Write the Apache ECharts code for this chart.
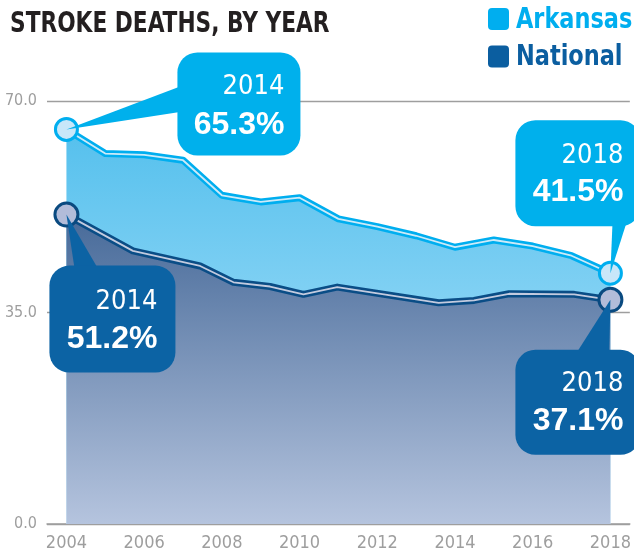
<!DOCTYPE html>
<html><head><meta charset="utf-8">
<script src="https://cdn.jsdelivr.net/npm/echarts@6/dist/echarts.min.js"></script>
<style>html,body{margin:0;padding:0;background:#fff}#c{width:634px;height:552px}</style>
</head><body><div id="c"></div>
<script>
// ---- data ----
const categories = ['2004','2005','2006','2007','2008','2009','2010','2011','2012','2013','2014','2015','2016','2017','2018'];
const arkansasValues = [65.3,61.3,61.1,60.2,54.4,53.3,54.0,50.5,49.2,47.7,45.8,47.0,46.0,44.4,41.5];
const nationalYears = [2004,2005.71,2007.44,2008.30,2009.24,2010.10,2010.97,2013.58,2014.49,2015.39,2017.07,2018];
const nationalValues = [51.2,45.2,42.7,40.0,39.3,38.0,39.2,36.6,37.0,38.1,38.0,37.1];
const yTicks = [0,35,70];
const legendNames = ['Arkansas','National'];
const calloutYears = ['2014','2018','2014','2018'];
const calloutValues = ['65.3%','41.5%','51.2%','37.1%'];
const titleText = 'STROKE DEATHS, BY YEAR';

// ---- styles ----
const NARROW = '"Liberation Sans Narrow","DejaVu Sans Condensed",sans-serif';
const AR_COLOR = '#00aeef', NA_COLOR = '#0b5ea0';
const AR_BUBBLE = '#00b0ec', NA_BUBBLE = '#0c63a4';
const GRAY = '#9e9e9e';

const calloutLayout = [
  {color:AR_BUBBLE, rect:[111,-77,123,103], ptr:[[115,-43.5],[115,-17.6]], yr:[218,-42], val:[218,-4.6]},
  {color:AR_BUBBLE, rect:[-95,-153,125,106], ptr:[[2.3,-55],[17.5,-55]], yr:[13,-117], val:[13,-81.5]},
  {color:NA_BUBBLE, rect:[-17,51,126,107], ptr:[[9,60],[35,60]], yr:[91,87.7], val:[91,124.3]},
  {color:NA_BUBBLE, rect:[-95,50,125,105], ptr:[[-37,58],[-1.2,58]], yr:[13,84.3], val:[13,121.3]}
];

const arLast = arkansasValues.length - 1, naLast = nationalValues.length - 1;
const nationalData = nationalYears.map((y,i)=>[y, nationalValues[i]]);
const calloutData = [
  [+categories[0], arkansasValues[0], 0],
  [+categories[arLast], arkansasValues[arLast], 1],
  [nationalYears[0], nationalValues[0], 2],
  [nationalYears[naLast], nationalValues[naLast], 3]
];

const chart = echarts.init(document.getElementById('c'), null, {renderer:'canvas'});
chart.setOption({
  animation:false,
  graphic:[
    {type:'text', x:10, y:24, scaleX:0.832, z:10,
      style:{text:titleText, fill:'#231f20', verticalAlign:'middle', font:'bold 29px '+NARROW}},
    {type:'rect', shape:{x:488, y:8, width:21, height:22, r:4}, style:{fill:AR_COLOR}},
    {type:'rect', shape:{x:488, y:45.5, width:21, height:22, r:4}, style:{fill:NA_COLOR}},
    {type:'text', x:516, y:20.5, scaleX:0.86,
      style:{text:legendNames[0], fill:AR_COLOR, verticalAlign:'middle', font:'bold 29px '+NARROW}},
    {type:'text', x:516, y:57, scaleX:0.86,
      style:{text:legendNames[1], fill:NA_COLOR, verticalAlign:'middle', font:'bold 29px '+NARROW}}
  ],
  grid:{left:47, right:4, top:101, bottom:25.5, containLabel:false},
  xAxis:[
    {type:'category', data:categories, boundaryGap:true,
      axisLine:{show:true, lineStyle:{color:GRAY, width:1.5}},
      axisTick:{show:false},
      axisLabel:{interval:1, margin:10, fontFamily:NARROW, fontSize:18, color:GRAY}},
    {type:'value', min:2003.5, max:2018.5, show:false}
  ],
  yAxis:{type:'value', min:yTicks[0], max:yTicks[2], interval:yTicks[1]-yTicks[0],
    axisLine:{show:false}, axisTick:{show:false},
    axisLabel:{margin:10, fontFamily:NARROW, fontSize:16, color:GRAY, formatter:v=>v.toFixed(1)},
    splitLine:{lineStyle:{color:GRAY, width:1.3}}},
  series:[
    {name:legendNames[0], type:'line', xAxisIndex:0, data:arkansasValues, z:2,
      showSymbol:false, symbol:'none', itemStyle:{color:AR_COLOR},
      lineStyle:{color:AR_COLOR, width:7, join:'round'},
      areaStyle:{opacity:1, color:new echarts.graphic.LinearGradient(0,0,0,1,[
        {offset:0,color:'#55c0ed'},{offset:1,color:'#bbe7fc'}])}},
    {type:'line', xAxisIndex:0, data:arkansasValues, z:3, showSymbol:false, symbol:'none',
      lineStyle:{color:'#cdeaf8', width:1.8}, silent:true},
    {name:legendNames[1], type:'line', xAxisIndex:1, data:nationalData, z:4,
      showSymbol:false, symbol:'none', itemStyle:{color:NA_COLOR},
      lineStyle:{color:'#0a4d86', width:7, join:'round'},
      areaStyle:{opacity:1, color:new echarts.graphic.LinearGradient(0,0,0,1,[
        {offset:0,color:'#476a99'},{offset:1,color:'#b5c4de'}])}},
    {type:'line', xAxisIndex:1, data:nationalData, z:5, showSymbol:false, symbol:'none',
      lineStyle:{color:'#c3cbdf', width:1.8}, silent:true},
    {type:'scatter', xAxisIndex:0, z:6, symbolSize:22,
      data:[[0, arkansasValues[0]],[arLast, arkansasValues[arLast]]],
      itemStyle:{color:'#c8e7f9', borderColor:AR_COLOR, borderWidth:3, opacity:1}},
    {type:'scatter', xAxisIndex:1, z:6, symbolSize:23,
      data:[nationalData[0], nationalData[naLast]],
      itemStyle:{color:'#b2bcd9', borderColor:'#0a4a80', borderWidth:3, opacity:1}},
    {type:'custom', xAxisIndex:1, z:7, clip:false, silent:true, data:calloutData,
      renderItem:function(params, api){
        const p = api.coord([api.value(0), api.value(1)]);
        const k = api.value(2);
        const L = calloutLayout[k];
        const px = p[0], py = p[1];
        return {type:'group', children:[
          {type:'polygon', shape:{points:[[px,py],[px+L.ptr[0][0],py+L.ptr[0][1]],[px+L.ptr[1][0],py+L.ptr[1][1]]]},
            style:{fill:L.color}},
          {type:'rect', shape:{x:px+L.rect[0], y:py+L.rect[1], width:L.rect[2], height:L.rect[3], r:20},
            style:{fill:L.color}},
          {type:'text', x:px+L.yr[0], y:py+L.yr[1],
            style:{text:calloutYears[k], fill:'#fff', align:'right', verticalAlign:'middle',
              font:'normal 27px '+NARROW}},
          {type:'text', x:px+L.val[0], y:py+L.val[1],
            style:{text:calloutValues[k], fill:'#fff', align:'right', verticalAlign:'middle',
              font:'bold 32px "Liberation Sans",sans-serif'}}
        ]};
      }}
  ]
});
</script>
</body></html>
